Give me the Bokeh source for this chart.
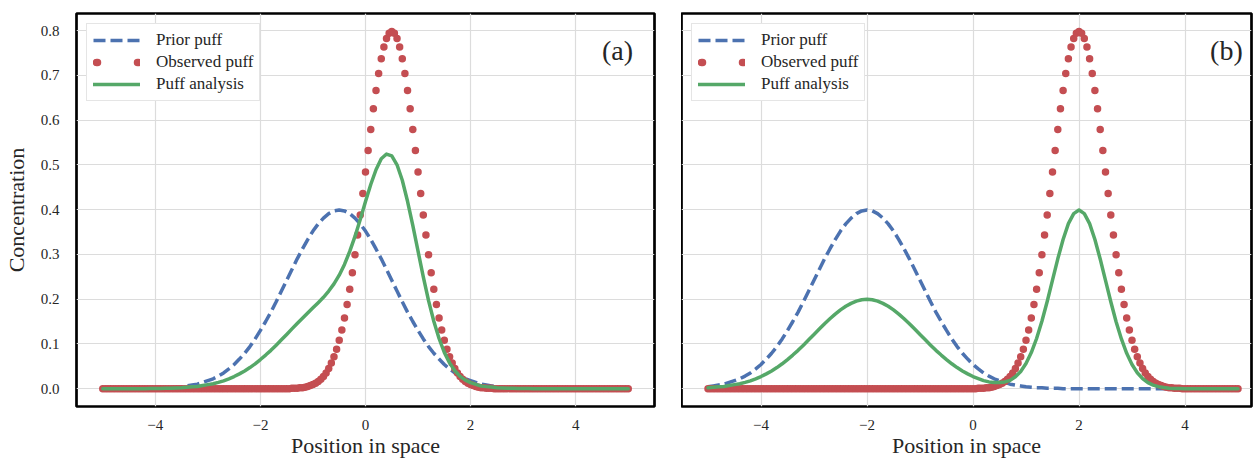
from bokeh.plotting import figure
from bokeh.models import (Range1d, FixedTicker, NumeralTickFormatter, Legend,
                          LegendItem, Label, ColumnDataSource)
from bokeh.layouts import row
from bokeh.embed import file_html
from bokeh.resources import INLINE

# ---------------- data ----------------
# position grids
x_dots = [round(-5 + 0.05 * i, 2) for i in range(201)]
x_line = [round(-5 + 0.1 * i, 1) for i in range(101)]

x_ticks = [-4, -2, 0, 2, 4]
x_tick_labels = {-4: "\u22124", -2: "\u22122", 0: "0", 2: "2", 4: "4"}
y_ticks = [0.0, 0.1, 0.2, 0.3, 0.4, 0.5, 0.6, 0.7, 0.8]

# panel (a)
prior_a = [0.0] * 9 + [
    0.001, 0.001, 0.001, 0.002, 0.002, 0.003, 0.004, 0.006, 0.008, 0.010,
    0.014, 0.018, 0.022, 0.028, 0.035, 0.044, 0.054, 0.066, 0.079, 0.094,
    0.111, 0.130, 0.150, 0.171, 0.194, 0.218, 0.242, 0.266, 0.290, 0.312,
    0.333, 0.352, 0.368, 0.381, 0.391, 0.397, 0.399, 0.397, 0.391, 0.381,
    0.368, 0.352, 0.333, 0.312, 0.290, 0.266, 0.242, 0.218, 0.194, 0.171,
    0.150, 0.130, 0.111, 0.094, 0.079, 0.066, 0.054, 0.044, 0.035, 0.028,
    0.022, 0.018, 0.014, 0.010, 0.008, 0.006, 0.004, 0.003, 0.002, 0.002,
    0.001, 0.001, 0.001] + [0.0] * 19

observed_a = [0.0] * 72 + [
    0.001, 0.001, 0.001, 0.002, 0.002, 0.003, 0.005, 0.007, 0.009, 0.012,
    0.016, 0.021, 0.027, 0.035, 0.045, 0.057, 0.071, 0.088, 0.108, 0.131,
    0.158, 0.188, 0.222, 0.259, 0.299, 0.343, 0.388, 0.436, 0.484, 0.532,
    0.579, 0.625, 0.666, 0.704, 0.737, 0.763, 0.782, 0.794, 0.798, 0.794,
    0.782, 0.763, 0.737, 0.704, 0.666, 0.625, 0.579, 0.532, 0.484, 0.436,
    0.388, 0.343, 0.299, 0.259, 0.222, 0.188, 0.158, 0.131, 0.108, 0.088,
    0.071, 0.057, 0.045, 0.035, 0.027, 0.021, 0.016, 0.012, 0.009, 0.007,
    0.005, 0.003, 0.002, 0.002, 0.001, 0.001, 0.001] + [0.0] * 52

analysis_a = [0.0] * 9 + [
    0.0005, 0.0005, 0.0005, 0.001, 0.001, 0.0015, 0.002, 0.003, 0.004, 0.005,
    0.007, 0.009, 0.011, 0.014, 0.0175, 0.022, 0.027, 0.033, 0.0395, 0.047,
    0.0555, 0.065, 0.075, 0.0855, 0.097, 0.109, 0.121, 0.1335, 0.1455, 0.157,
    0.169, 0.1805, 0.192, 0.204, 0.218, 0.234, 0.2535, 0.2775, 0.3065, 0.340,
    0.378, 0.418, 0.456, 0.489, 0.5135, 0.524, 0.520, 0.500, 0.4655, 0.4185,
    0.3645, 0.307, 0.2495, 0.1965, 0.1505, 0.112, 0.081, 0.0575, 0.040, 0.0275,
    0.019, 0.0135, 0.0095, 0.006, 0.0045, 0.0035, 0.002, 0.0015, 0.001, 0.001,
    0.0005, 0.0005, 0.0005] + [0.0] * 19

# panel (b)
prior_b = [
    0.004, 0.006, 0.008, 0.010, 0.014, 0.018, 0.022, 0.028, 0.035, 0.044,
    0.054, 0.066, 0.079, 0.094, 0.111, 0.130, 0.150, 0.171, 0.194, 0.218,
    0.242, 0.266, 0.290, 0.312, 0.333, 0.352, 0.368, 0.381, 0.391, 0.397,
    0.399, 0.397, 0.391, 0.381, 0.368, 0.352, 0.333, 0.312, 0.290, 0.266,
    0.242, 0.218, 0.194, 0.171, 0.150, 0.130, 0.111, 0.094, 0.079, 0.066,
    0.054, 0.044, 0.035, 0.028, 0.022, 0.018, 0.014, 0.010, 0.008, 0.006,
    0.004, 0.003, 0.002, 0.002, 0.001, 0.001, 0.001] + [0.0] * 34

observed_b = [0.0] * 102 + [
    0.001, 0.001, 0.001, 0.002, 0.002, 0.003, 0.005, 0.007, 0.009, 0.012,
    0.016, 0.021, 0.027, 0.035, 0.045, 0.057, 0.071, 0.088, 0.108, 0.131,
    0.158, 0.188, 0.222, 0.259, 0.299, 0.343, 0.388, 0.436, 0.484, 0.532,
    0.579, 0.625, 0.666, 0.704, 0.737, 0.763, 0.782, 0.794, 0.798, 0.794,
    0.782, 0.763, 0.737, 0.704, 0.666, 0.625, 0.579, 0.532, 0.484, 0.436,
    0.388, 0.343, 0.299, 0.259, 0.222, 0.188, 0.158, 0.131, 0.108, 0.088,
    0.071, 0.057, 0.045, 0.035, 0.027, 0.021, 0.016, 0.012, 0.009, 0.007,
    0.005, 0.003, 0.002, 0.002, 0.001, 0.001, 0.001] + [0.0] * 22

analysis_b = [
    0.002, 0.003, 0.004, 0.005, 0.007, 0.009, 0.011, 0.014, 0.0175, 0.022,
    0.027, 0.033, 0.0395, 0.047, 0.0555, 0.065, 0.075, 0.0855, 0.097, 0.109,
    0.121, 0.133, 0.145, 0.156, 0.1665, 0.176, 0.184, 0.1905, 0.1955, 0.1985,
    0.1995, 0.1985, 0.1955, 0.1905, 0.184, 0.176, 0.1665, 0.156, 0.145, 0.133,
    0.121, 0.109, 0.097, 0.0855, 0.075, 0.065, 0.0555, 0.047, 0.0395, 0.033,
    0.027,
    0.0225, 0.018, 0.015, 0.0135, 0.0135, 0.015, 0.0185, 0.0265, 0.0385, 0.056,
    0.0805, 0.112, 0.1505, 0.1945, 0.2425, 0.290, 0.333, 0.3685, 0.391, 0.399,
    0.391, 0.3685, 0.333, 0.2895, 0.242, 0.194, 0.1495, 0.111, 0.079, 0.054,
    0.0355, 0.0225, 0.0135, 0.008, 0.0045, 0.0025, 0.001, 0.0005, 0.0005] + [0.0] * 11

labels = ["Prior puff", "Observed puff", "Puff analysis"]

for arr in (prior_a, analysis_a, prior_b, analysis_b):
    assert len(arr) == len(x_line), len(arr)
for arr in (observed_a, observed_b):
    assert len(arr) == len(x_dots), len(arr)

# ---------------- style ----------------
BLUE = "#4C72B0"
RED = "#C44E52"
GREEN = "#55A868"
TEXT = "#262626"
GRID = "#dcdcdc"
FONT = "Liberation Serif"


def make_panel(prior, observed, analysis, tag, width, x_end, show_y,
               border_left, border_right):
    p = figure(width=width, height=460,
               x_range=Range1d(-5.5, x_end), y_range=Range1d(-0.0399, 0.838),
               output_backend="svg", toolbar_location=None,
               min_border_left=border_left, min_border_right=border_right,
               min_border_top=13, min_border_bottom=52)
    p.background_fill_color = "white"
    p.border_fill_color = "white"
    p.outline_line_color = "black"
    p.outline_line_width = 2.7

    # axes
    p.xaxis.ticker = FixedTicker(ticks=x_ticks)
    p.xaxis.major_label_overrides = x_tick_labels
    p.xaxis.axis_label = "Position in space"
    p.yaxis.ticker = FixedTicker(ticks=y_ticks)
    p.yaxis.formatter = NumeralTickFormatter(format="0.0")
    p.xgrid.ticker = FixedTicker(ticks=x_ticks)
    p.ygrid.ticker = FixedTicker(ticks=y_ticks)
    for ax in (p.xaxis, p.yaxis):
        ax.axis_line_color = None
        ax.major_tick_line_color = None
        ax.minor_tick_line_color = None
        ax.major_label_text_font = FONT
        ax.major_label_text_font_size = "15px"
        ax.major_label_text_color = TEXT
        ax.axis_label_text_font = FONT
        ax.axis_label_text_font_size = "22px"
        ax.axis_label_text_font_style = "normal"
        ax.axis_label_text_color = TEXT
    p.xaxis.major_label_standoff = 7
    p.xaxis.axis_label_standoff = 0
    p.yaxis.major_label_standoff = 11
    p.yaxis.axis_label_standoff = 9
    if show_y:
        p.yaxis.axis_label = "Concentration"
    else:
        p.yaxis.visible = False

    for g in (p.xgrid, p.ygrid):
        g.grid_line_color = GRID
        g.grid_line_width = 1.2

    # curves
    r_prior = p.line(x_line, prior, line_color=BLUE, line_width=3.5,
                     line_dash="12 5")
    p.scatter(x_dots, observed, size=7.5, fill_color=RED, line_color=None)
    r_an = p.line(x_line, analysis, line_color=GREEN, line_width=3.5,
                  line_cap="round", line_join="round")
    # legend swatch for the observed dots (two dots, as in the original)
    empty = ColumnDataSource(data=dict(x=[float("nan")], y=[float("nan")]))
    r_obs_leg = p.line(x="x", y="y", source=empty, line_color=RED,
                       line_width=7.5, line_cap="round", line_dash="1 40",
                       line_dash_offset=38)

    legend = Legend(items=[LegendItem(label=labels[0], renderers=[r_prior]),
                           LegendItem(label=labels[1], renderers=[r_obs_leg]),
                           LegendItem(label=labels[2], renderers=[r_an])],
                    location="top_left", margin=10, padding=6, spacing=2,
                    glyph_width=47, glyph_height=20, label_height=20,
                    label_standoff=16,
                    label_text_font=FONT, label_text_font_size="17px",
                    label_text_color=TEXT,
                    border_line_color="#cccccc", border_line_width=1,
                    background_fill_color="white", background_fill_alpha=1.0)
    p.add_layout(legend)

    p.add_layout(Label(x=5.09, y=0.755, text=tag, text_font=FONT,
                       text_font_size="28px", text_color=TEXT,
                       text_align="right", text_baseline="middle"))
    return p


p1 = make_panel(prior_a, observed_a, analysis_a, "(a)", 681, 5.5, True, 71, 27)
p2 = make_panel(prior_b, observed_b, analysis_b, "(b)", 572,
                -5.5 + 570 / 53.0, False, 0, 2)

layout = row(p1, p2)
open("out.html", "w").write(file_html(layout, INLINE))
